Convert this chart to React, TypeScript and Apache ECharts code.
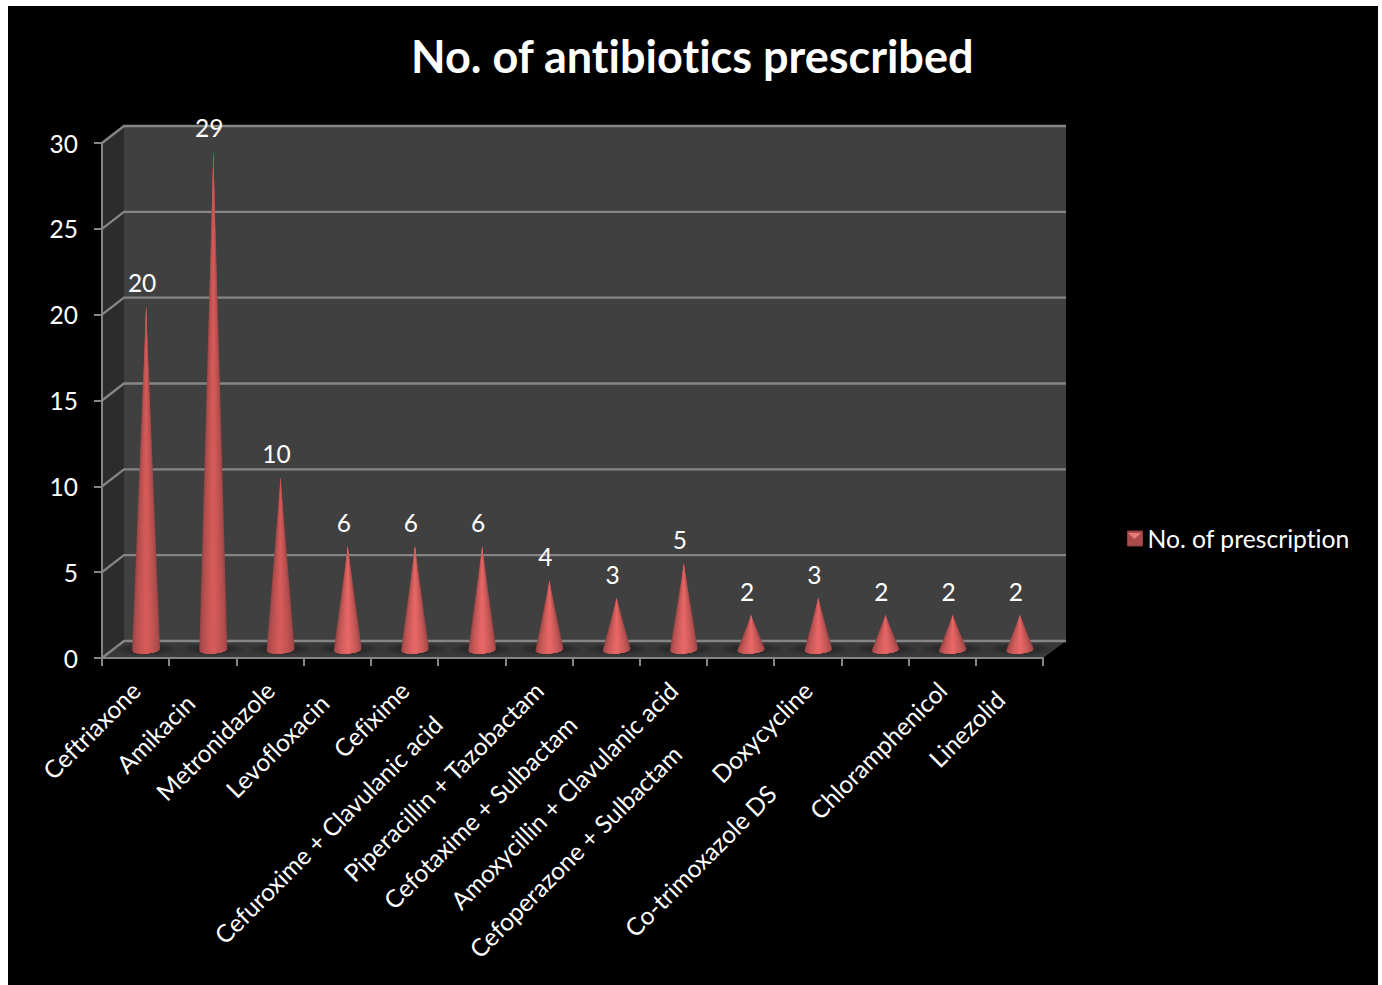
import React, { useEffect, useRef } from "react";
import * as echarts from "echarts";

const titleText = "No. of antibiotics prescribed";
const seriesName = "No. of prescription";
const categories = [
  "Ceftriaxone",
  "Amikacin",
  "Metronidazole",
  "Levofloxacin",
  "Cefixime",
  "Cefuroxime + Clavulanic acid",
  "Piperacillin + Tazobactam",
  "Cefotaxime + Sulbactam",
  "Amoxycillin + Clavulanic acid",
  "Cefoperazone + Sulbactam",
  "Doxycycline",
  "Co-trimoxazole DS",
  "Chloramphenicol",
  "Linezolid",
];
const prescriptions = [20, 29, 10, 6, 6, 6, 4, 3, 5, 2, 3, 2, 2, 2];
const valueTicks = [0, 5, 10, 15, 20, 25, 30];

// Extra run-in (px along the slanted baseline) that staggers long axis labels.
const labelStagger = [0, 18, 0, 18, 0, 48, 0, 48, 0, 90, 0, 146, 0, 13];

const FONT = "Lato, sans-serif";
const DEPTH_X = 22;
const DEPTH_Y = -17;
const GRID_COLOR = "#858585";
const CONE_LAYERS = 16;

function mix(a: number[], b: number[], t: number) {
  const c = a.map((v, i) => Math.round(v + (b[i] - v) * t));
  return `rgb(${c[0]},${c[1]},${c[2]})`;
}

// Back wall, side wall, floor and the gridlines that wrap around them.
function renderRoom(params: any, api: any) {
  const cs = params.coordSys;
  const left = cs.x;
  const right = cs.x + cs.width;
  const top = api.coord([0, 30])[1];
  const floor = api.coord([0, 0])[1];
  const farRight = right + DEPTH_X + 1;
  const poly = (points: number[][], fill: any) => ({
    type: "polygon",
    silent: true,
    shape: { points },
    style: { fill },
  });
  const children: any[] = [
    poly(
      [
        [left + DEPTH_X, top + DEPTH_Y],
        [farRight, top + DEPTH_Y],
        [farRight, floor + DEPTH_Y],
        [left + DEPTH_X, floor + DEPTH_Y],
      ],
      "#404040"
    ),
    poly(
      [
        [left, top],
        [left + DEPTH_X, top + DEPTH_Y],
        [left + DEPTH_X, floor + DEPTH_Y],
        [left, floor],
      ],
      "#2c2c2c"
    ),
    poly(
      [
        [left, floor],
        [left + DEPTH_X, floor + DEPTH_Y],
        [farRight, floor + DEPTH_Y],
        [right, floor],
      ],
      "#393939"
    ),
  ];
  valueTicks.forEach((tick) => {
    const y = api.coord([0, tick])[1];
    children.push({
      type: "polyline",
      silent: true,
      shape: {
        points: [
          [left, y],
          [left + DEPTH_X, y + DEPTH_Y],
          [farRight, y + DEPTH_Y],
        ],
      },
      style: { stroke: GRID_COLOR, lineWidth: 2.4, fill: "none" },
    });
  });
  return { type: "group", children };
}

// One shaded cone: nested triangles from the apex give the conical light falloff.
function renderCone(_params: any, api: any) {
  const index = api.value(0);
  const value = api.value(1);
  const [x0, y0] = api.coord([index, 0]);
  const [, yv] = api.coord([index, value]);
  const cx = x0 + 10.5;
  const baseY = y0 + DEPTH_Y / 2 + 0.5;
  const tipY = yv + DEPTH_Y / 2;
  const halfW = 14;
  const ry = 3.4;
  const tilt = -0.9;
  const edge = [150, 68, 67];
  const core = value <= 6 ? [232, 104, 103] : [214, 92, 91];

  const children: any[] = [
    {
      type: "ellipse",
      silent: true,
      shape: { cx, cy: baseY - 1, rx: 34, ry: 6.5 },
      style: {
        fill: new echarts.graphic.RadialGradient(0.5, 0.5, 0.5, [
          { offset: 0, color: "rgba(0,0,0,0.45)" },
          { offset: 0.6, color: "rgba(0,0,0,0.22)" },
          { offset: 1, color: "rgba(0,0,0,0)" },
        ]),
      },
    },
  ];

  for (let layer = 0; layer < CONE_LAYERS; layer++) {
    const t = layer / (CONE_LAYERS - 1);
    const k = 1 - t * 0.94;
    const pts: number[][] = [[cx, tipY]];
    const steps = 14;
    for (let s = 0; s <= steps; s++) {
      const u = -k + (2 * k * s) / steps;
      const bulge = ry * Math.sqrt(Math.max(0, 1 - u * u));
      pts.push([cx + u * halfW, baseY + bulge + tilt * u]);
    }
    children.push({
      type: "polygon",
      silent: true,
      shape: { points: pts },
      style: { fill: mix(edge, core, Math.pow(t, 0.55)) },
    });
  }

  children.push({
    type: "text",
    silent: true,
    style: {
      x: cx - 4,
      y: tipY - 24,
      text: String(value),
      fill: "#ffffff",
      font: `24.5px ${FONT}`,
      textAlign: "center",
      textVerticalAlign: "middle",
    },
  });
  return { type: "group", children };
}

export default function App() {
  const ref = useRef<HTMLDivElement>(null);

  useEffect(() => {
    const chart = echarts.init(ref.current!, undefined, { renderer: "svg" });
    const rich: Record<string, any> = {};
    labelStagger.forEach((run, i) => {
      rich[`c${i}`] = {
        color: "#ffffff",
        fontFamily: FONT,
        fontSize: 24.5,
        padding: [0, run, 0, 0],
      };
    });
    chart.setOption({
      animation: false,
      backgroundColor: "#000000",
      textStyle: { fontFamily: FONT },
      title: {
        text: titleText,
        left: 398,
        top: 22,
        textStyle: { color: "#ffffff", fontSize: 45, fontWeight: "bold", fontFamily: FONT },
      },
      grid: { left: 94, top: 137, width: 941, height: 515, containLabel: false },
      legend: {
        show: true,
        left: 1114,
        top: 515,
        itemWidth: 15,
        itemHeight: 15,
        data: [
          {
            name: seriesName,
            icon: "rect",
            itemStyle: { color: "#a84b4a", borderColor: "#8e3f3e", borderWidth: 1 },
          },
        ],
        textStyle: { color: "#ffffff", fontSize: 24.7, fontFamily: FONT },
      },
      graphic: [
        {
          type: "polygon",
          silent: true,
          z: 100,
          shape: {
            points: [
              [1120, 527],
              [1133, 527],
              [1126.5, 533],
            ],
          },
          style: { fill: "#e97c7b" },
        },
      ],
      xAxis: {
        type: "category",
        data: categories,
        boundaryGap: true,
        axisLine: { show: true, lineStyle: { color: GRID_COLOR, width: 2 } },
        axisTick: { show: true, length: 8, lineStyle: { color: GRID_COLOR, width: 2 } },
        axisLabel: {
          interval: 0,
          rotate: 45,
          margin: 28,
          hideOverlap: false,
          color: "#ffffff",
          fontSize: 24.5,
          fontFamily: FONT,
          formatter: (name: string, i: number) => `{c${i}|${name}}`,
          rich,
        },
      },
      yAxis: {
        type: "value",
        min: 0,
        max: 30,
        interval: 5,
        splitLine: { show: false },
        axisLine: { show: true, lineStyle: { color: GRID_COLOR, width: 2 } },
        axisTick: { show: true, length: 8, lineStyle: { color: GRID_COLOR, width: 2 } },
        axisLabel: { margin: 24, color: "#ffffff", fontSize: 24.5, fontFamily: FONT },
      },
      series: [
        {
          name: "room",
          type: "custom",
          z: -1,
          silent: true,
          clip: false,
          renderItem: renderRoom,
          data: [[0, 0]],
          encode: { x: 0, y: 1 },
        },
        {
          name: seriesName,
          type: "custom",
          z: 3,
          silent: true,
          clip: false,
          renderItem: renderCone,
          itemStyle: { color: "#a84b4a" },
          data: prescriptions.map((v, i) => [i, v]),
          encode: { x: 0, y: 1 },
        },
      ],
    });
    return () => chart.dispose();
  }, []);

  return (
    <div
      ref={ref}
      style={{
        position: "absolute",
        left: 8,
        top: 6,
        width: 1370,
        height: 979,
        fontVariantLigatures: "none",
      }}
    />
  );
}
